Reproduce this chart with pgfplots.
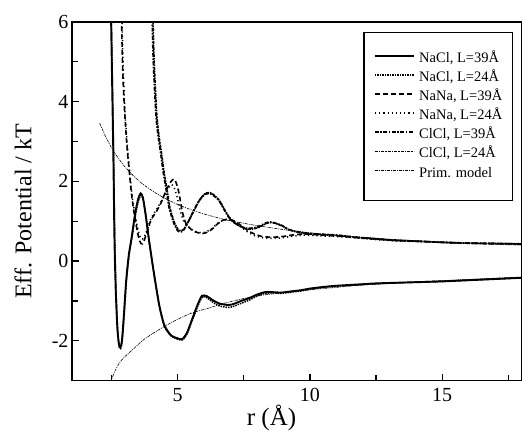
\documentclass[border=0pt]{standalone}
\usepackage{fontspec}
\setmainfont{Liberation Serif}
\usepackage{pgfplots}
\pgfplotsset{compat=1.18}

% NaCl effective potentials
\newcommand{\naclA}{(2.47,6.5) (2.52,4.5) (2.57,2.5) (2.61,0.5) (2.66,-0.8) (2.72,-1.7) (2.78,-2.1) (2.83,-2.17) (2.89,-2.0) (2.96,-1.4) (3.05,-0.5) (3.15,0.15) (3.26,0.6) (3.38,1.15) (3.5,1.55) (3.6,1.70) (3.68,1.6) (3.78,1.2) (3.92,0.5) (4.1,-0.3) (4.3,-1.1) (4.49,-1.6) (4.74,-1.86) (5.0,-1.94) (5.17,-1.96) (5.35,-1.8) (5.55,-1.45) (5.75,-1.1) (5.92,-0.87) (6.1,-0.88) (6.3,-0.97) (6.55,-1.06) (6.85,-1.1) (7.05,-1.09) (7.4,-1.0) (7.7,-0.93) (8.0,-0.84) (8.3,-0.78) (8.6,-0.78) (8.92,-0.79) (9.3,-0.76) (9.67,-0.73) (10.0,-0.69) (10.5,-0.65) (11.0,-0.62) (12.0,-0.58) (12.5,-0.56) (13.5,-0.54) (15.0,-0.51) (16.0,-0.48) (17.0,-0.45) (18.0,-0.42)}
\newcommand{\naclB}{(2.48,6.5) (2.53,4.5) (2.58,2.5) (2.62,0.5) (2.67,-0.8) (2.73,-1.75) (2.79,-2.15) (2.84,-2.2) (2.9,-2.02) (2.97,-1.4) (3.06,-0.5) (3.16,0.15) (3.27,0.6) (3.39,1.12) (3.51,1.5) (3.61,1.65) (3.69,1.56) (3.79,1.15) (3.93,0.45) (4.11,-0.35) (4.31,-1.15) (4.5,-1.65) (4.75,-1.88) (5.0,-1.96) (5.18,-1.98) (5.36,-1.82) (5.56,-1.47) (5.76,-1.13) (5.93,-0.9) (6.1,-0.92) (6.3,-1.02) (6.55,-1.12) (6.85,-1.16) (7.05,-1.15) (7.4,-1.06) (7.7,-0.98) (8.0,-0.88) (8.3,-0.81) (8.6,-0.8) (8.92,-0.81) (9.3,-0.78) (9.67,-0.75) (10.0,-0.71) (10.5,-0.66) (11.0,-0.63) (12.0,-0.59) (12.5,-0.57) (13.5,-0.54) (15.0,-0.51) (16.0,-0.48) (17.0,-0.45) (18.0,-0.42)}
% NaNa effective potentials
\newcommand{\nanaA}{(2.86,6.5) (2.92,4.8) (2.99,3.78) (3.08,2.9) (3.17,2.24) (3.25,1.7) (3.33,1.3) (3.42,0.94) (3.52,0.6) (3.61,0.44) (3.7,0.46) (3.85,0.75) (3.99,1.03) (4.2,1.25) (4.36,1.45) (4.55,1.75) (4.74,1.99) (4.86,2.06) (4.95,1.95) (5.05,1.7) (5.17,1.25) (5.3,0.96) (5.5,0.8) (5.68,0.73) (5.92,0.69) (6.1,0.72) (6.3,0.8) (6.5,0.93) (6.7,1.02) (6.9,1.05) (7.17,1.0) (7.42,0.88) (7.67,0.76) (7.9,0.68) (8.17,0.62) (8.5,0.6) (8.9,0.61) (9.3,0.65) (9.8,0.68) (10.5,0.65) (11.4,0.61) (12.3,0.56) (13.2,0.52) (14.0,0.5) (15.0,0.47) (16.0,0.45) (17.0,0.44) (18.0,0.43)}
\newcommand{\nanaB}{(2.88,6.5) (2.94,4.8) (3.01,3.7) (3.1,2.85) (3.19,2.2) (3.27,1.68) (3.35,1.3) (3.44,0.98) (3.53,0.7) (3.62,0.56) (3.72,0.58) (3.86,0.82) (4.0,1.08) (4.2,1.3) (4.36,1.48) (4.55,1.72) (4.7,1.88) (4.78,1.92) (4.88,1.82) (4.98,1.6) (5.1,1.25) (5.24,0.98) (5.45,0.83) (5.65,0.75) (5.9,0.71) (6.1,0.74) (6.3,0.82) (6.5,0.94) (6.7,1.02) (6.9,1.04) (7.17,0.97) (7.42,0.84) (7.67,0.72) (7.9,0.64) (8.17,0.59) (8.5,0.57) (8.9,0.58) (9.3,0.62) (9.8,0.65) (10.5,0.63) (11.4,0.6) (12.3,0.55) (13.2,0.51) (14.0,0.49) (15.0,0.47) (16.0,0.45) (17.0,0.44) (18.0,0.43)}
% ClCl effective potentials
\newcommand{\clclA}{(4.02,6.5) (4.08,5.0) (4.18,3.66) (4.27,3.1) (4.36,2.7) (4.45,2.25) (4.55,1.86) (4.67,1.36) (4.78,1.1) (4.86,0.94) (4.98,0.78) (5.08,0.73) (5.2,0.76) (5.35,0.92) (5.55,1.19) (5.75,1.45) (5.92,1.61) (6.05,1.68) (6.17,1.7) (6.3,1.67) (6.55,1.53) (6.75,1.3) (6.92,1.11) (7.1,0.98) (7.3,0.9) (7.5,0.84) (7.67,0.82) (7.85,0.83) (8.05,0.86) (8.25,0.93) (8.45,0.98) (8.65,0.96) (8.92,0.9) (9.17,0.8) (9.5,0.74) (10.0,0.69) (10.5,0.67) (11.05,0.65) (11.7,0.6) (12.3,0.57) (13.2,0.52) (14.0,0.5) (15.0,0.47) (16.0,0.45) (17.0,0.44) (18.0,0.43)}
\newcommand{\clclB}{(4.05,6.5) (4.11,5.0) (4.21,3.66) (4.3,3.1) (4.39,2.7) (4.48,2.25) (4.58,1.86) (4.7,1.36) (4.81,1.1) (4.89,0.94) (5.01,0.8) (5.11,0.76) (5.23,0.8) (5.38,0.96) (5.58,1.22) (5.78,1.48) (5.95,1.64) (6.08,1.71) (6.2,1.72) (6.33,1.68) (6.58,1.52) (6.78,1.28) (6.95,1.1) (7.13,0.97) (7.33,0.88) (7.53,0.82) (7.7,0.8) (7.88,0.81) (8.08,0.85) (8.28,0.92) (8.48,0.97) (8.68,0.95) (8.95,0.88) (9.2,0.79) (9.5,0.73) (10.0,0.68) (10.5,0.66) (11.05,0.64) (11.7,0.6) (12.3,0.57) (13.2,0.52) (14.0,0.5) (15.0,0.47) (16.0,0.45) (17.0,0.44) (18.0,0.43)}

\begin{document}
\begin{tikzpicture}
\begin{axis}[
    scale only axis,
    width=450bp, height=359bp,
    xmin=1, xmax=18, ymin=-3, ymax=6,
    xtick={5,10,15}, minor xtick={2.5,7.5,12.5,17.5},
    ytick={-2,0,2,4,6}, minor ytick={-3,-1,1,3,5},
    tick pos=left, tick align=inside,
    major tick length=7bp, minor tick length=6bp,
    axis line style={line width=1.6bp},
    every tick/.style={black, line width=1.2bp},
    tick label style={font=\fontsize{20bp}{24bp}\selectfont},
    /pgf/number format/assume math mode=true,
    xticklabel style={yshift=-4bp},
    every axis y label/.style={at={([xshift=-40.5bp]axis description cs:0,0.472)}, rotate=90, anchor=base, font=\fontsize{24bp}{28bp}\selectfont},
    every axis x label/.style={at={([yshift=-45bp]axis description cs:0.444,0)}, anchor=base, font=\fontsize{25bp}{30bp}\selectfont},
    ylabel={Eff. Potential / kT},
    xlabel={r (Å)},
    legend style={at={(axis description cs:1,1)}, anchor=north east, xshift=-8.7bp, yshift=-9.7bp,
        draw=black, line width=1.2bp, inner xsep=10bp, inner ysep=20bp,
        row sep=6.17bp, column sep=4.4bp,
        font=\fontsize{14.5bp}{18bp}\selectfont,
        nodes={inner sep=0pt, text height=10bp, text depth=3bp}},
    legend image code/.code={\draw[#1] (0bp,3bp) -- (39bp,3bp);},
    legend cell align=left,
]
\addplot[black, line width=1.9bp, smooth, tension=0.4] coordinates {\naclA};
\addplot[black, line width=1.5bp, dash pattern=on 1.5bp off 1bp, smooth, tension=0.4] coordinates {\naclB};
\addplot[black, line width=1.6bp, dash pattern=on 5bp off 3bp, smooth, tension=0.4] coordinates {\nanaA};
\addplot[black, line width=1.5bp, dash pattern=on 1.2bp off 3bp, smooth, tension=0.4] coordinates {\nanaB};
\addplot[black, line width=1.8bp, dash pattern=on 4bp off 1.5bp on 1.5bp off 1.5bp, smooth, tension=0.4] coordinates {\clclA};
\addplot[black, line width=1.6bp, dash pattern=on 3bp off 1bp on 1.5bp off 1bp, smooth, tension=0.4] coordinates {\clclB};
\addplot[black, line width=0.6bp, dash pattern=on 3bp off 1bp on 1bp off 1bp, smooth] coordinates {(2.05,3.46) (2.3,3.09) (2.6,2.73) (3.0,2.37) (3.5,2.03) (4.0,1.78) (4.5,1.58) (5.0,1.42) (5.5,1.29) (6.0,1.18) (6.5,1.09) (7.0,1.01) (8.0,0.89) (9.0,0.79) (10.0,0.71) (11.0,0.65) (12.0,0.59) (13.0,0.55) (14.0,0.51) (15.0,0.47) (16.0,0.44) (17.0,0.42) (18.0,0.40)};
\addplot[black, line width=0.6bp, dash pattern=on 3bp off 1bp on 1bp off 1bp, smooth, forget plot] coordinates {(2.46,-3.05) (2.6,-2.8) (2.8,-2.55) (3.0,-2.4) (3.3,-2.22) (3.7,-1.98) (4.1,-1.8) (4.55,-1.62) (5.0,-1.46) (5.55,-1.3) (6.17,-1.18) (6.7,-1.07) (7.3,-0.97) (7.93,-0.88) (8.5,-0.83) (9.2,-0.78) (10.0,-0.72) (11.0,-0.66) (12.0,-0.6) (13.0,-0.56) (14.0,-0.52) (15.0,-0.49) (16.0,-0.46) (17.0,-0.43) (18.0,-0.40)};
\legend{NaCl{,} L=39Å, NaCl{,} L=24Å, NaNa{,} L=39Å, NaNa{,} L=24Å, ClCl{,} L=39Å, ClCl{,} L=24Å, Prim. model}
\end{axis}
\pgfresetboundingbox
\path[use as bounding box] ([xshift=-72bp,yshift=-52bp]current axis.south west) rectangle ([xshift=0.5bp,yshift=22bp]current axis.north east);
\end{tikzpicture}
\end{document}
